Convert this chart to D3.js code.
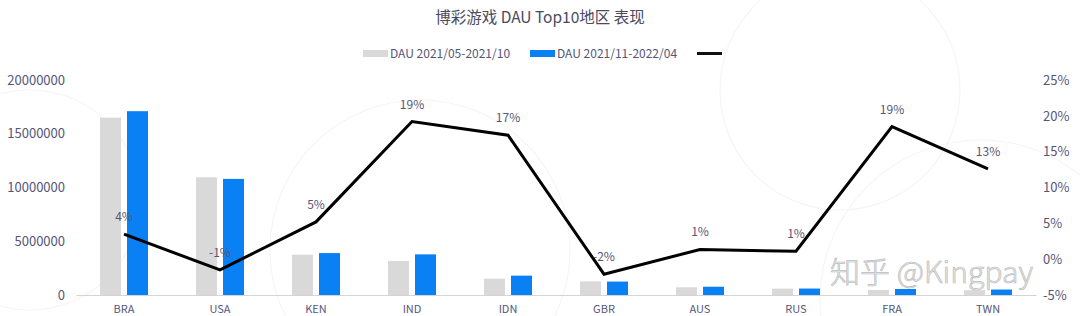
<!DOCTYPE html>
<html>
<head>
  <meta charset="utf-8">
  <title>博彩游戏 DAU Top10地区 表现</title>
  <script src="https://cdn.jsdelivr.net/npm/d3@7"></script>
  <style>
    body { margin: 0; background: #fff; }
    svg { display: block; font-family: "Noto Sans CJK SC", "Noto Sans", sans-serif; }
  </style>
</head>
<body>
  <svg id="chart" width="1080" height="316"></svg>
  <script>
    // data
    var regions = ["BRA", "USA", "KEN", "IND", "IDN", "GBR", "AUS", "RUS", "FRA", "TWN"];
    var dauFirst = [16500000, 10950000, 3750000, 3170000, 1520000, 1270000, 720000, 590000, 470000, 450000];
    var dauSecond = [17100000, 10800000, 3900000, 3780000, 1800000, 1250000, 770000, 600000, 560000, 510000];
    var growth = [3.5, -1.5, 5.2, 19.2, 17.3, -2.1, 1.35, 1.1, 18.5, 12.6];
    var growthLabels = ["4%", "-1%", "5%", "19%", "17%", "-2%", "1%", "1%", "19%", "13%"];
    var leftTicks = [0, 5000000, 10000000, 15000000, 20000000];
    var rightTicks = [-5, 0, 5, 10, 15, 20, 25];
    var seriesNames = ["DAU 2021/05-2021/10", "DAU 2021/11-2022/04"];

    var grey = "#d9d9d9", blue = "#0a80f5", textCol = "#55557a";

    var svg = d3.select("#chart");

    // faint background decoration
    var deco = svg.append("g").attr("fill", "none").attr("stroke", "#f5f5f7").attr("stroke-width", 1.2);
    deco.append("circle").attr("cx", 420).attr("cy", 250).attr("r", 150);
    deco.append("circle").attr("cx", 840).attr("cy", 90).attr("r", 120);
    deco.append("circle").attr("cx", 980).attr("cy", 300).attr("r", 160);
    deco.append("circle").attr("cx", 30).attr("cy", 200).attr("r", 110);

    var x = d3.scaleBand().domain(regions).range([76, 1036]);
    var yLeft = d3.scaleLinear().domain([0, 20000000]).range([295, 80]);
    var yRight = d3.scaleLinear().domain([-5, 25]).range([295, 80]);

    // title
    svg.append("text")
      .attr("x", 540).attr("y", 23)
      .attr("text-anchor", "middle")
      .attr("font-size", 15.5)
      .attr("fill", "#4a4a5e")
      .text("博彩游戏 DAU Top10地区 表现");

    // legend
    var legend = svg.append("g").attr("font-size", 12).attr("fill", textCol);
    legend.append("rect").attr("x", 363).attr("y", 50).attr("width", 25).attr("height", 7).attr("fill", grey);
    legend.append("text").attr("x", 390).attr("y", 58).text(seriesNames[0]);
    legend.append("rect").attr("x", 530).attr("y", 50).attr("width", 25).attr("height", 7).attr("fill", blue);
    legend.append("text").attr("x", 557).attr("y", 58).text(seriesNames[1]);
    legend.append("line").attr("x1", 697).attr("x2", 722).attr("y1", 53.5).attr("y2", 53.5)
      .attr("stroke", "#111").attr("stroke-width", 3);

    // left axis
    var leftAxis = svg.append("g")
      .attr("transform", "translate(70,0)")
      .call(d3.axisLeft(yLeft).tickValues(leftTicks).tickSize(0).tickPadding(5).tickFormat(d3.format("d")));
    leftAxis.select(".domain").remove();
    leftAxis.selectAll("text").attr("font-size", 13).attr("fill", textCol).attr("font-family", "Noto Sans CJK SC");

    // right axis
    var rightAxis = svg.append("g")
      .attr("transform", "translate(1043,0)")
      .call(d3.axisRight(yRight).tickValues(rightTicks).tickSize(0).tickPadding(0).tickFormat(function(d) { return d + "%"; }));
    rightAxis.select(".domain").remove();
    rightAxis.selectAll("text").attr("font-size", 13).attr("fill", textCol).attr("font-family", "Noto Sans CJK SC");

    // x axis
    var xAxis = svg.append("g")
      .attr("transform", "translate(0,295)")
      .call(d3.axisBottom(x).tickSize(0).tickPadding(10));
    xAxis.select(".domain").attr("stroke", "#d4d4d8");
    xAxis.selectAll("text").attr("font-size", 11).attr("fill", textCol).attr("font-family", "Noto Sans CJK SC");

    // bars
    var barW = 21, gap = 6;
    svg.append("g").selectAll("rect")
      .data(dauFirst)
      .join("rect")
      .attr("x", function(d, i) { return x(regions[i]) + x.bandwidth() / 2 - gap / 2 - barW; })
      .attr("y", function(d) { return yLeft(d); })
      .attr("width", barW)
      .attr("height", function(d) { return yLeft(0) - yLeft(d); })
      .attr("fill", grey);

    svg.append("g").selectAll("rect")
      .data(dauSecond)
      .join("rect")
      .attr("x", function(d, i) { return x(regions[i]) + x.bandwidth() / 2 + gap / 2; })
      .attr("y", function(d) { return yLeft(d); })
      .attr("width", barW)
      .attr("height", function(d) { return yLeft(0) - yLeft(d); })
      .attr("fill", blue);

    // growth line
    var line = d3.line()
      .x(function(d, i) { return x(regions[i]) + x.bandwidth() / 2; })
      .y(function(d) { return yRight(d); });

    svg.append("path")
      .datum(growth)
      .attr("d", line)
      .attr("fill", "none")
      .attr("stroke", "#000")
      .attr("stroke-width", 3)
      .attr("stroke-linejoin", "miter");

    svg.append("g").selectAll("text")
      .data(growth)
      .join("text")
      .attr("x", function(d, i) { return x(regions[i]) + x.bandwidth() / 2; })
      .attr("y", function(d) { return yRight(d) - 13; })
      .attr("text-anchor", "middle")
      .attr("font-size", 12)
      .attr("fill", textCol)
      .text(function(d, i) { return growthLabels[i]; });

    // watermark
    svg.append("text")
      .attr("x", 830).attr("y", 283)
      .attr("font-size", 30)
      .attr("fill", "#e8e8e8")
      .attr("stroke", "#bdbdbd")
      .attr("stroke-width", 0.7)
      .attr("font-family", "Noto Sans CJK SC")
      .attr("font-weight", 300)
      .text("知乎 @Kingpay");
  </script>
</body>
</html>
